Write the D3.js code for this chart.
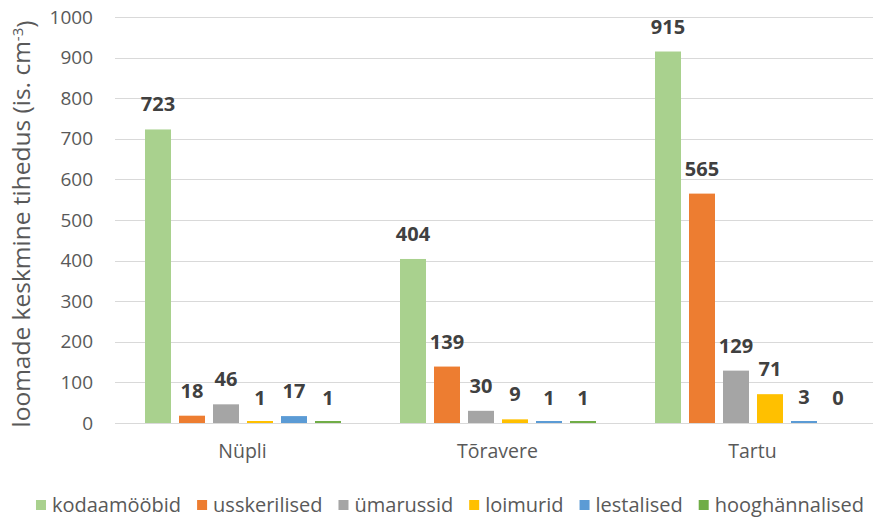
<!DOCTYPE html>
<html>
<head>
<meta charset="utf-8">
<script src="https://cdn.jsdelivr.net/npm/d3@7"></script>
<style>
  html, body { margin: 0; padding: 0; background: #fff; }
  svg { display: block; }
  text { font-family: "Open Sans", "Noto Sans", sans-serif; }
</style>
</head>
<body>
<svg id="chart" width="873" height="517"></svg>
<script>
const categories = ["Nüpli", "Tõravere", "Tartu"];
const seriesNames = ["kodaamööbid", "usskerilised", "ümarussid", "loimurid", "lestalised", "hooghännalised"];
const seriesColors = ["#A9D18E", "#ED7D31", "#A5A5A5", "#FFC000", "#5B9BD5", "#70AD47"];
const kodaamoobid = [723, 404, 915];
const usskerilised = [18, 139, 565];
const ymarussid = [46, 30, 129];
const loimurid = [1, 9, 71];
const lestalised = [17, 1, 3];
const hooghannalised = [1, 1, 0];
const yTicks = [0, 100, 200, 300, 400, 500, 600, 700, 800, 900, 1000];
const yTitle = "loomade keskmine tihedus (is. cm";
const yTitleSup = "-3";

const seriesValues = [kodaamoobid, usskerilised, ymarussid, loimurid, lestalised, hooghannalised];
const data = categories.map((c, i) => ({
  category: c,
  values: seriesNames.map((s, j) => ({ series: s, value: seriesValues[j][i], color: seriesColors[j] }))
}));

const svg = d3.select("#chart");
const W = 873, H = 517;
const plotLeft = 115, plotRight = 880, plotTop = 17, plotBottom = 423;

const x0 = d3.scaleBand().domain(categories).range([plotLeft, plotRight]).paddingInner(0).paddingOuter(0);
const x1 = d3.scaleBand().domain(seriesNames).range([30, 226]).paddingInner(8 / 34).paddingOuter(0);
const y = d3.scaleLinear().domain([0, 1000]).range([plotBottom, plotTop]);

// gridlines
svg.append("g")
  .selectAll("line")
  .data(yTicks)
  .join("line")
  .attr("x1", plotLeft)
  .attr("x2", W)
  .attr("y1", d => Math.round(y(d)) + 0.5)
  .attr("y2", d => Math.round(y(d)) + 0.5)
  .attr("stroke", "#D9D9D9")
  .attr("stroke-width", 1.2);

// y axis labels
const yAxis = d3.axisLeft(y).tickValues(yTicks).tickFormat(d3.format("d")).tickSize(0).tickPadding(0);
const yg = svg.append("g").attr("transform", `translate(${93},0)`).call(yAxis);
yg.select(".domain").remove();
yg.selectAll("text")
  .attr("fill", "#595959")
  .style("font-size", "19px")
  .style("font-family", "'Open Sans', sans-serif");

// bars
const groups = svg.append("g")
  .selectAll("g")
  .data(data)
  .join("g")
  .attr("transform", d => `translate(${x0(d.category)},0)`);

groups.selectAll("rect")
  .data(d => d.values)
  .join("rect")
  .attr("x", d => x1(d.series))
  .attr("width", x1.bandwidth())
  .attr("y", d => d.value > 0 ? Math.min(y(d.value), y(0) - 2) : y(0))
  .attr("height", d => d.value > 0 ? Math.max(y(0) - y(d.value), 2) : 0)
  .attr("fill", d => d.color);

groups.selectAll("text.val")
  .data(d => d.values)
  .join("text")
  .attr("class", "val")
  .attr("x", d => x1(d.series) + x1.bandwidth() / 2)
  .attr("y", d => y(d.value) - 18)
  .attr("text-anchor", "middle")
  .attr("fill", "#404040")
  .style("font-size", "20px")
  .style("font-weight", "bold")
  .text(d => d.value);

// x axis labels
const xAxis = d3.axisBottom(x0).tickSize(0).tickPadding(0);
const xg = svg.append("g").attr("transform", `translate(0,${plotBottom + 20})`).call(xAxis);
xg.select(".domain").remove();
xg.selectAll("text")
  .attr("fill", "#595959")
  .attr("dy", "0.75em")
  .style("font-size", "19.5px")
  .style("font-family", "'Open Sans', sans-serif");

// y title
const yt = svg.append("text")
  .attr("transform", `translate(30,${224}) rotate(-90)`)
  .attr("text-anchor", "middle")
  .attr("fill", "#595959")
  .style("font-size", "24.5px");
yt.append("tspan").text(yTitle);
yt.append("tspan").attr("dy", "-0.45em").style("font-size", "15px").text(yTitleSup);
yt.append("tspan").attr("dy", "0.45em").text(")");

// legend
const legend = svg.append("g");
const items = legend.selectAll("g")
  .data(seriesNames.map((s, i) => ({ name: s, color: seriesColors[i] })))
  .join("g");
items.append("rect").attr("width", 10).attr("height", 10).attr("y", -5).attr("fill", d => d.color);
items.append("text")
  .attr("x", 16)
  .attr("dy", "0.35em")
  .attr("fill", "#595959")
  .style("font-size", "20px")
  .text(d => d.name);
const gapItem = 16;
let cx = 0;
items.each(function () {
  const g = d3.select(this);
  g.attr("transform", `translate(${cx},0)`);
  const tw = g.select("text").node().getComputedTextLength();
  cx += 16 + tw + gapItem;
});
const totalW = cx - gapItem;
legend.attr("transform", `translate(${450 - totalW / 2},${505})`);
</script>
</body>
</html>
